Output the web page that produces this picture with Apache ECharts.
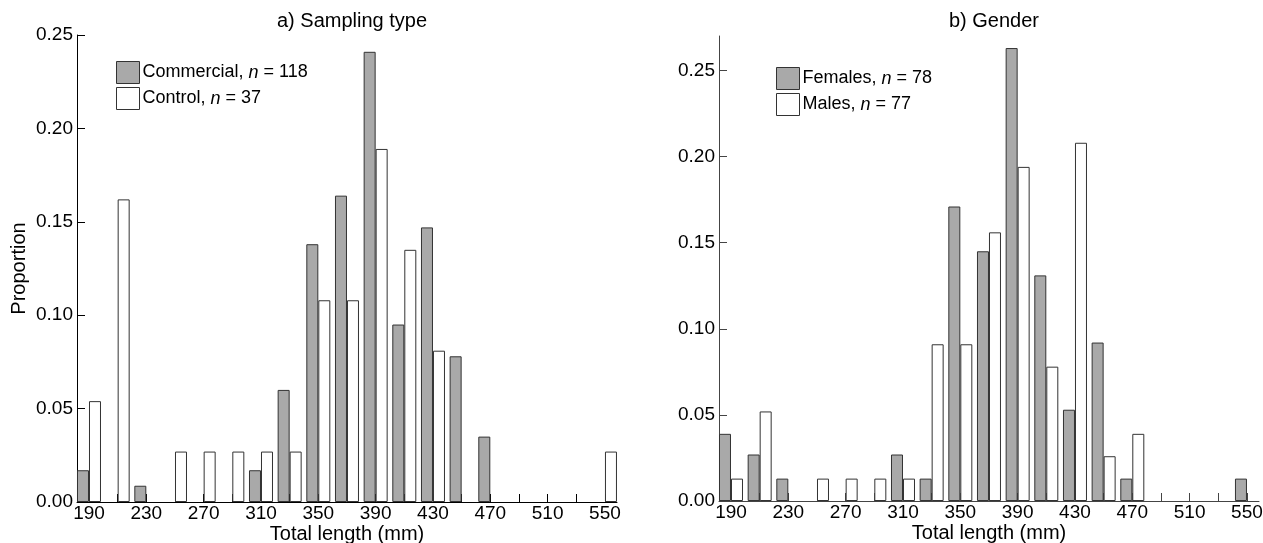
<!DOCTYPE html>
<html><head><meta charset="utf-8">
<script src="https://cdn.jsdelivr.net/npm/echarts@6/dist/echarts.min.js"></script>
<style>html,body{margin:0;padding:0;background:#fff}#c{width:1263px;height:543px}</style>
</head><body><div id="c"></div>
<script>
const bins = [190,210,230,250,270,290,310,330,350,370,390,410,430,450,470,490,510,530,550];
const xLabels = [190,230,270,310,350,390,430,470,510,550];
const yTicks = [0,0.05,0.10,0.15,0.20,0.25];
const commercial = [0.017,0,0.0087,0,0,0,0.017,0.060,0.138,0.164,0.241,0.095,0.147,0.078,0.035,0,0,0,0];
const control    = [0.054,0.162,0,0.027,0.027,0.027,0.027,0.027,0.108,0.108,0.189,0.135,0.081,0,0,0,0,0,0.027];
const females    = [0.039,0.027,0.013,0,0,0,0.027,0.013,0.171,0.145,0.263,0.131,0.053,0.092,0.013,0,0,0,0.013];
const males      = [0.013,0.052,0,0.013,0.013,0.013,0.013,0.091,0.091,0.156,0.194,0.078,0.208,0.026,0.039,0,0,0,0];
const legendText = {Commercial:'Commercial, |118', Control:'Control, |37', Females:'Females, |78', Males:'Males, |77'};

const FONT = 'Liberation Sans, Arial, sans-serif';
const chart = echarts.init(document.getElementById('c'));
function pairs(arr){ return bins.map((b,i)=> arr[i] === 0 ? [b, null] : [b, arr[i]]); }
function xAxis(idx, color){
  return {
    type:'value', gridIndex:idx, min:181.63, max:558.4,
    name:'Total length (mm)', nameLocation:'middle', nameGap:22, nameMoveOverlap:false,
    nameTextStyle:{fontFamily:FONT, fontSize:20, color:'#000'},
    axisLine:{show:true, lineStyle:{color:color, width:1}},
    axisTick:{show:true, inside:true, length:8, customValues:bins, lineStyle:{color:color}},
    axisLabel:{customValues:xLabels, margin:2, fontFamily:FONT, fontSize:19, color:'#000'},
    splitLine:{show:false}
  };
}
function yAxis(idx, max, color, named){
  return {
    type:'value', gridIndex:idx, min:0, max:max, interval:0.05,
    name: named ? 'Proportion' : '', nameLocation:'middle', nameGap:48, nameMoveOverlap:false,
    nameTextStyle:{fontFamily:FONT, fontSize:20, color:'#000'},
    axisLine:{show:true, lineStyle:{color:color, width:1}},
    axisTick:{show:true, inside:true, length:8, customValues:yTicks, lineStyle:{color:color}},
    axisLabel:{customValues:yTicks, margin:4, fontFamily:FONT, fontSize:19, color:'#000',
      formatter:v=>v.toFixed(2)},
    splitLine:{show:false}
  };
}
function bar(name, data, idx, fill){
  return {
    name:name, type:'bar', xAxisIndex:idx, yAxisIndex:idx, data:pairs(data),
    barWidth:12, barGap:'0%',
    itemStyle:{color:fill, borderColor:'#333', borderWidth:1},
    emphasis:{disabled:true}
  };
}
function legend(names, left, top){
  return {
    data:names, orient:'vertical', left:left, top:top, padding:0,
    itemWidth:23, itemHeight:22, itemGap:3, icon:'rect',
    itemStyle:{borderColor:'#333', borderWidth:1},
    formatter:function(n){ const p = legendText[n].split('|'); return '{a|'+p[0]+'}{i|n}{a| = '+p[1]+'}'; },
    textStyle:{padding:[0,0,0,-2], rich:{
      a:{fontFamily:FONT, fontSize:18, color:'#000'},
      i:{fontFamily:FONT, fontSize:18, color:'#000', fontStyle:'italic'}
    }}
  };
}
chart.setOption({
  animation:false,
  title:[
    {text:'a) Sampling type', left:347, top:6, textAlign:'center', textStyle:{fontFamily:FONT, fontSize:20, fontWeight:'normal', color:'#000'}},
    {text:'b) Gender', left:989, top:6, textAlign:'center', textStyle:{fontFamily:FONT, fontSize:20, fontWeight:'normal', color:'#000'}}
  ],
  grid:[
    {left:77, top:35, width:540, height:467, outerBoundsMode:'none', containLabel:false},
    {left:719, top:36, width:540, height:465, outerBoundsMode:'none', containLabel:false}
  ],
  xAxis:[xAxis(0,'#000'), xAxis(1,'#444')],
  yAxis:[yAxis(0,0.25,'#000',true), yAxis(1,0.27,'#444',false)],
  legend:[legend(['Commercial','Control'],116,61), legend(['Females','Males'],776,67)],
  series:[
    bar('Commercial', commercial, 0, '#a9a9a9'),
    bar('Control', control, 0, '#ffffff'),
    bar('Females', females, 1, '#a9a9a9'),
    bar('Males', males, 1, '#ffffff')
  ]
});
</script></body></html>
